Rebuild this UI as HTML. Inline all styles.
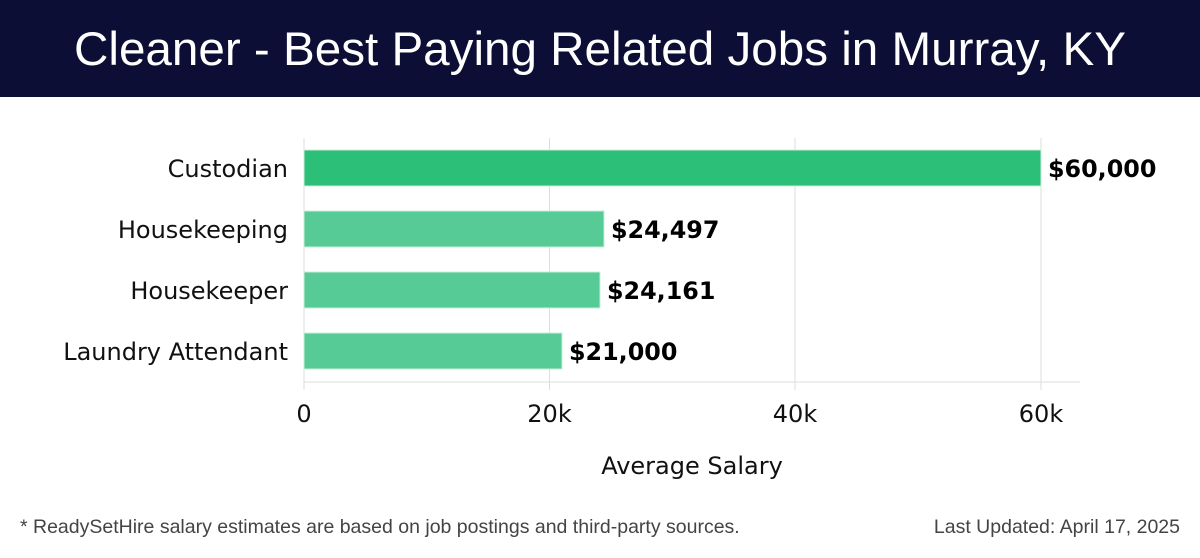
<!DOCTYPE html>
<html><head><style>
body{margin:0;width:1200px;height:558px;background:#fff;position:relative;overflow:hidden;font-family:"DejaVu Sans","Liberation Sans",sans-serif}
.hdr{position:absolute;left:0;top:0;width:1200px;height:97px;background:#0c0e36;color:#fff;font-family:"Liberation Sans",sans-serif;font-size:47.6px;text-align:center;line-height:100px}
.ft{position:absolute;top:516px;font-family:"Liberation Sans",sans-serif;font-size:19.5px;color:#444}
</style></head><body>
<div class="hdr">Cleaner - Best Paying Related Jobs in Murray, KY</div>
<svg width="1200" height="558" style="position:absolute;left:0;top:0" font-family="DejaVu Sans, sans-serif">
<g stroke="#ddd" stroke-width="1">
<line x1="304" y1="138" x2="304" y2="390"/>
<line x1="549.5" y1="138" x2="549.5" y2="390"/>
<line x1="795" y1="138" x2="795" y2="390"/>
<line x1="1041" y1="138" x2="1041" y2="390"/>
<line x1="304" y1="382" x2="1080" y2="382"/>
</g>
<rect x="304" y="150" width="737" height="36" fill="#2bbf78" stroke="#c8eedb" stroke-width="1"/>
<rect x="304" y="211" width="300" height="36" fill="#57cb95" stroke="#c8eedb" stroke-width="1"/>
<rect x="304" y="272" width="296" height="36" fill="#57cb95" stroke="#c8eedb" stroke-width="1"/>
<rect x="304" y="333" width="258" height="36" fill="#57cb95" stroke="#c8eedb" stroke-width="1"/>
<g font-size="23.8" font-weight="bold" fill="#000">
<text x="1048" y="177">$60,000</text>
<text x="611" y="238">$24,497</text>
<text x="607" y="299">$24,161</text>
<text x="569" y="360">$21,000</text>
</g>
<g font-size="24" fill="#111" text-anchor="end">
<text x="288" y="177">Custodian</text>
<text x="288" y="238">Housekeeping</text>
<text x="288" y="299">Housekeeper</text>
<text x="288" y="360">Laundry Attendant</text>
</g>
<g font-size="24" fill="#111" text-anchor="middle">
<text x="304" y="422">0</text>
<text x="549.5" y="422">20k</text>
<text x="795" y="422">40k</text>
<text x="1041" y="422">60k</text>
<text x="692" y="474">Average Salary</text>
</g>
</svg>
<div class="ft" style="left:20px">* ReadySetHire salary estimates are based on job postings and third-party sources.</div>
<div class="ft" style="right:20px">Last Updated: April 17, 2025</div>
</body></html>
